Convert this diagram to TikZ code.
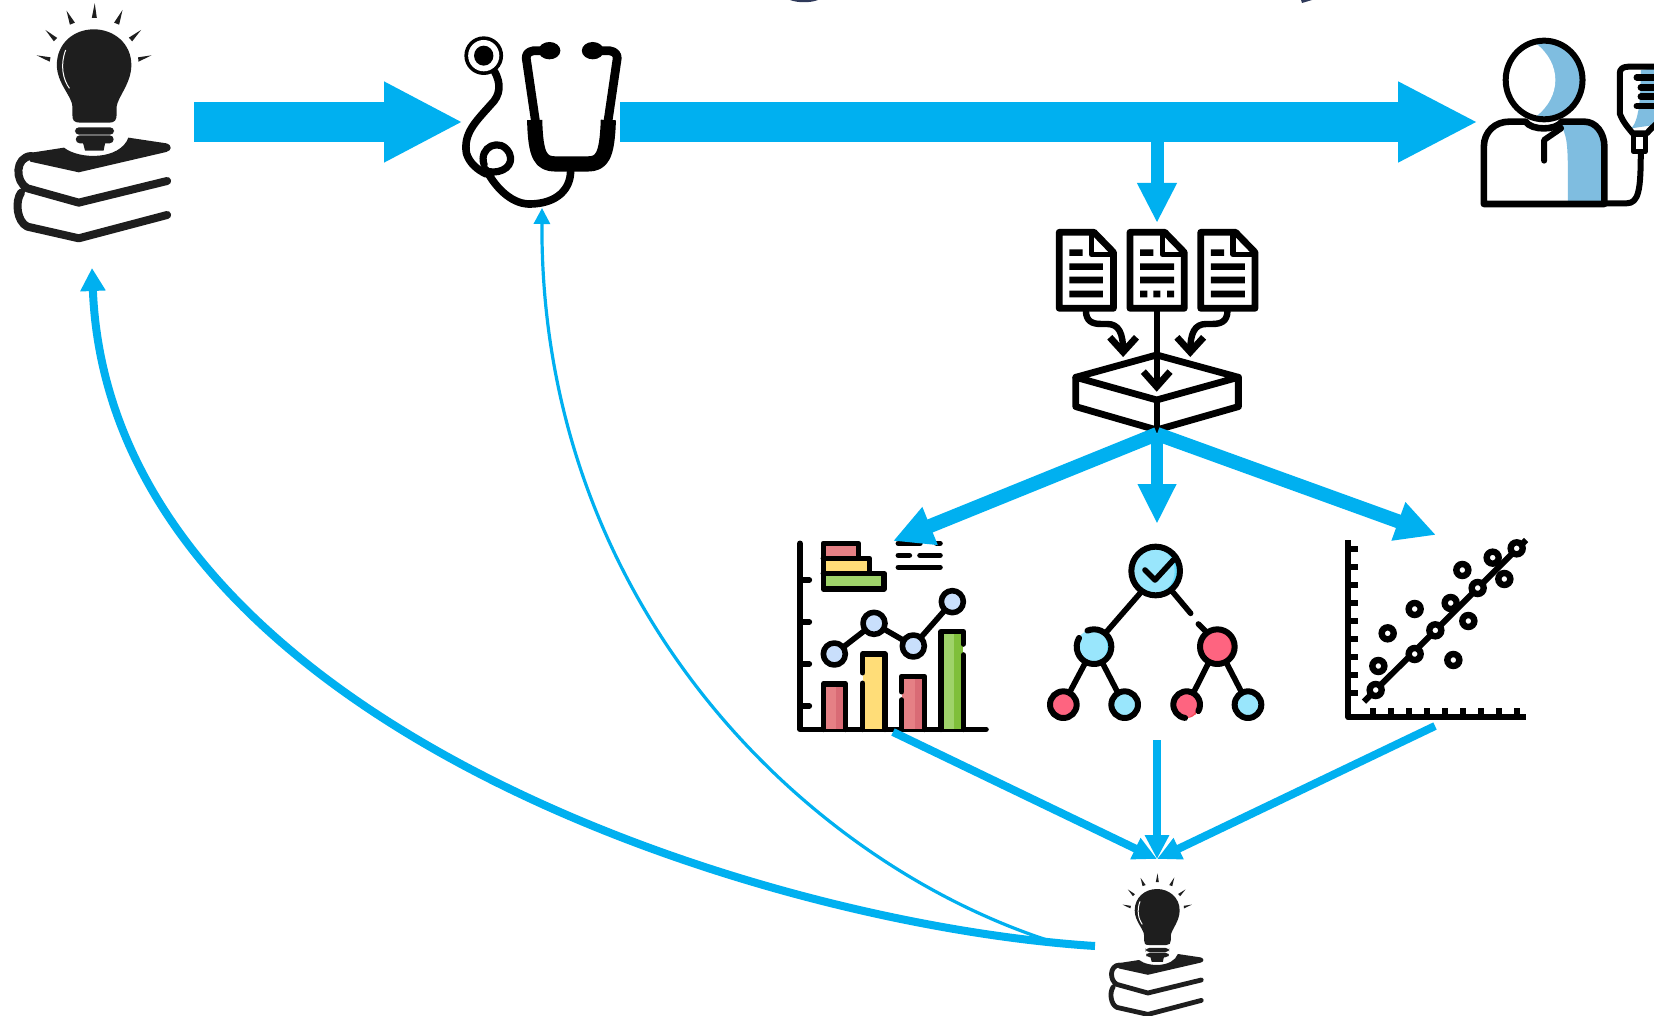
\documentclass[tikz,border=0pt]{standalone}
\usetikzlibrary{arrows.meta}
\definecolor{arrowblue}{HTML}{00B0F0}
\definecolor{inkdark}{HTML}{1E1E1E}
\definecolor{patblue}{HTML}{7FBDE0}
\definecolor{barred}{HTML}{E58085}
\definecolor{barreddk}{HTML}{D96B75}
\definecolor{baryel}{HTML}{FFDD78}
\definecolor{bargrn}{HTML}{9FD36A}
\definecolor{bargrndk}{HTML}{7FBF3A}
\definecolor{dotblue}{HTML}{C9DFFC}
\definecolor{treeblue}{HTML}{99E6FC}
\definecolor{treebluedk}{HTML}{62DBFB}
\definecolor{treered}{HTML}{FE6480}
\definecolor{treereddk}{HTML}{F64A5A}
\definecolor{titleink}{HTML}{2F3A5A}
\tikzset{
  conn/.style={draw=arrowblue,line width=#1},
  icon/.style={draw=black,line width=#1,line cap=round,line join=round},
  icon/.default=2.8pt,
}
\newcommand{\bulbbooks}[1]{%
  \fill[inkdark] (225,10)--(218,54)--(230,54)--cycle
    (158,32)--(166,74)--(178,68)--cycle
    (291,30)--(271,68)--(283,74)--cycle
    (108,90)--(128,124)--(136,114)--cycle
    (335,90)--(306,113)--(314,124)--cycle
    (87,166)--(120,172)--(118,185)--cycle
    (360,166)--(328,172)--(329,185)--cycle;
  \fill[inkdark] (172,345) .. controls (172,360) and (175,368) .. (190,368) -- (260,368)
    .. controls (272,368) and (277,360) .. (277,345) -- (277,320)
    .. controls (280,290) and (312,250) .. (312,195)
    .. controls (312,130) and (270,88) .. (223,88)
    .. controls (175,88) and (135,130) .. (135,195)
    .. controls (135,250) and (172,290) .. (172,320) -- cycle;
  \draw[white,line width=.5pt] (156,150) .. controls (142,195) and (150,240) .. (165,265);
  \fill[inkdark,rounded corners=2pt] (178,382) rectangle (271,404);
  \fill[inkdark,rounded corners=2pt] (180,406) rectangle (270,430);
  \fill[inkdark] (197,428) -- (250,428) -- (246,452) -- (202,452) -- cycle;
  \fill[inkdark] (152,443) .. controls (190,480) and (285,480) .. (305,413) -- (395,430)
    .. controls (410,436) and (408,452) .. (395,456) -- (187,517) -- (72,485) -- (65,460) -- cycle;
  \draw[draw=inkdark,line width=#1,line cap=round,line join=round]
    (75,468) .. controls (35,470) and (35,545) .. (65,565) -- (187,608) -- (397,543)
    (50,578) .. controls (35,605) and (40,665) .. (65,680) -- (187,715) -- (397,645);
}
\newcommand{\chartbar}[6]{%
  \fill[#5] (#1,628) rectangle (#2,#3);
  \fill[#6] ({#2-28},628) rectangle (#2,#3);
}
\newcommand{\chartdot}[2]{\draw[icon=2.8pt,fill=dotblue] (#1,#2) circle[radius=33];}
\newcommand{\treeshade}[6]{%
  \begin{scope}
    \clip (#1,#2) circle[radius=#3];
    \fill[#5] (#1,#2) circle[radius=#3];
    \fill[#4] ({#1-#6},#2) circle[radius=#3];
  \end{scope}%
}
\newcommand{\ringdot}[2]{\draw[line width=3.2pt,draw=black,fill=white] (#1,#2) circle[radius=18];}
\begin{document}
\begin{tikzpicture}[x=.5pt,y=-.5pt]
\useasboundingbox (0,0) rectangle (1654,1016);
\fill[white] (0,0) rectangle (1654,1016);

% clipped fragments at the top edge
\fill[titleink] (790,0) .. controls (798,3) and (810,3) .. (818,0) -- cycle;
\fill[titleink] (1301,0) -- (1312,0) -- (1302,3) -- cycle;

% named ends of the connectors
\coordinate (bookR) at (194,122);
\coordinate (stethL) at (463,122);
\coordinate (stethR) at (620,122);
\coordinate (patientL) at (1478,122);
\coordinate (trunk) at (1157,142);
\coordinate (docsTop) at (1157,223);
\coordinate (stackB) at (1157,434);
\coordinate (chartT) at (893,541);
\coordinate (treeT) at (1157,524);
\coordinate (scatT) at (1436,535);
\coordinate (chartB) at (893,732);
\coordinate (treeB) at (1157,740);
\coordinate (scatB) at (1435,726);
\coordinate (smallT) at (1157,859);
\coordinate (smallL) at (1095,946);
\coordinate (thinS) at (1050,941);
\coordinate (bookB) at (92,268);
\coordinate (stethB) at (542,208);

% big bulb and books
\begin{scope}[xscale=.421,yscale=.3333]
  \bulbbooks{4pt}
\end{scope}

% small bulb and books
\begin{scope}[shift={(1100.4,871.4)},xscale=.254,yscale=.2]
  \bulbbooks{2.4pt}
\end{scope}

% stethoscope
\begin{scope}[xscale=.421,yscale=.3333]
  \fill (1149,167) ellipse[x radius=46,y radius=58];
  \fill[white] (1149,167) ellipse[x radius=37,y radius=47];
  \fill (1149,167) ellipse[x radius=23,y radius=30];
  \draw[icon=3.8pt] (1175,215) .. controls (1190,250) and (1190,285) .. (1165,315)
     .. controls (1130,365) and (1100,400) .. (1108,460) .. controls (1115,490) and (1135,510) .. (1155,522);
  \draw[icon=3.6pt] (1150,495) .. controls (1135,440) and (1190,410) .. (1210,460)
     .. controls (1222,495) and (1195,522) .. (1160,515);
  \draw[icon=3.8pt] (1155,510) .. controls (1180,570) and (1220,615) .. (1262,612)
     .. controls (1320,610) and (1360,570) .. (1355,500);
  \fill (1305,152) circle[radius=26];
  \fill (1408,152) circle[radius=26];
  \draw[icon=4.4pt] (1295,152) -- (1268,152) .. controls (1252,155) and (1250,165) .. (1250,175) -- (1272,365);
  \draw[icon=4.4pt] (1420,152) -- (1447,152) .. controls (1463,155) and (1466,165) .. (1466,175) -- (1444,365);
  \draw[draw=black,line width=7.6pt,line join=round] (1270,360) .. controls (1272,470) and (1285,492) .. (1320,492)
     -- (1395,492) .. controls (1430,492) and (1442,470) .. (1445,360);
\end{scope}

% patient with drip
\begin{scope}[shift={(1020,0)},xscale=.4044,yscale=.3333]
  \clip (0,0) rectangle (1568,1016);
  \fill[patblue] (1296,240) ellipse[x radius=95,y radius=118];
  \begin{scope}
    \clip (1296,240) ellipse[x radius=95,y radius=118];
    \fill[white] (1275,130) .. controls (1340,190) and (1340,290) .. (1275,350) -- (1150,350) -- (1150,130) -- cycle;
  \end{scope}
  \draw[icon=3pt] (1296,240) ellipse[x radius=95,y radius=118];
  \fill[patblue] (1340,380) .. controls (1355,420) and (1355,440) .. (1355,605) -- (1445,605) -- (1445,440)
     .. controls (1445,400) and (1425,365) .. (1395,365) -- (1340,365) -- cycle;
  \draw[icon=3.3pt] (1147,612) -- (1147,440) .. controls (1147,395) and (1175,365) .. (1210,365) -- (1250,365)
     .. controls (1265,392) and (1325,392) .. (1340,365) -- (1395,365)
     .. controls (1425,365) and (1445,400) .. (1445,440) -- (1445,612) -- cycle;
  \draw[icon=3pt] (1338,385) -- (1296,420) -- (1296,482);
  \draw[icon=3pt] (1445,610) -- (1500,610) .. controls (1530,610) and (1535,570) .. (1535,455);
  \fill[patblue] (1535,210) -- (1568,205) -- (1568,375) -- (1512,385) .. controls (1530,360) and (1535,300) .. (1535,210) -- cycle;
  \draw[icon=3pt] (1568,200) -- (1505,200) .. controls (1490,200) and (1483,208) .. (1483,220) -- (1483,340)
     .. controls (1490,365) and (1505,385) .. (1515,400) -- (1550,400) .. controls (1556,390) and (1562,385) .. (1575,370);
  \draw[icon=2.6pt,fill=white] (1517,403) rectangle (1546,455);
  \draw[icon=3.2pt] (1525,232) -- (1575,232) (1535,262) -- (1575,262) (1535,290) -- (1575,290) (1525,318) -- (1575,318);
\end{scope}

% documents and stack
\begin{scope}[shift={(1020,0)},xscale=.4044,yscale=.3333]
  \draw[icon=3.4pt] (97,697) -- (183,697) -- (231,757) -- (231,925) -- (97,925) -- cycle;
  \draw[icon=2.8pt] (177,700) -- (177,763) -- (230,763);
  \draw[icon=3.4pt] (272,697) -- (358,697) -- (406,757) -- (406,925) -- (272,925) -- cycle;
  \draw[icon=2.8pt] (352,700) -- (352,763) -- (405,763);
  \draw[icon=3.4pt] (447,697) -- (533,697) -- (581,757) -- (581,925) -- (447,925) -- cycle;
  \draw[icon=2.8pt] (527,700) -- (527,763) -- (580,763);
  \fill (122,748) rectangle (155,768) (122,790) rectangle (205,810) (122,830) rectangle (205,850) (122,872) rectangle (205,892);
  \fill (297,748) rectangle (330,768) (297,790) rectangle (381,810) (297,830) rectangle (381,850)
        (297,872) rectangle (315,892) (330,872) rectangle (347,892) (364,872) rectangle (381,892);
  \fill (472,748) rectangle (505,768) (472,790) rectangle (556,810) (472,830) rectangle (556,850) (472,872) rectangle (556,892);
  \draw[icon=3.2pt] (163,932) .. controls (163,965) and (180,972) .. (200,972) -- (215,972)
      .. controls (245,972) and (255,1000) .. (255,1055);
  \draw[icon=3.2pt] (513,932) .. controls (513,965) and (496,972) .. (476,972) -- (461,972)
      .. controls (431,972) and (421,1000) .. (421,1055);
  \draw[icon=3.4pt,line cap=butt,line join=miter] (222,1012) -- (255,1056) -- (288,1012);
  \draw[icon=3.4pt,line cap=butt,line join=miter] (388,1012) -- (421,1056) -- (454,1012);
  \draw[icon=3.2pt] (338,930) -- (338,1155);
  \draw[icon=3.4pt,line cap=butt,line join=miter] (305,1115) -- (338,1160) -- (371,1115);
  \draw[icon=3.4pt] (338,1065) -- (540,1132) -- (338,1200) -- (138,1132) -- cycle;
  \draw[icon=3.4pt] (138,1132) -- (138,1220) -- (338,1290) -- (540,1220) -- (540,1132);
  \draw[icon=3.2pt] (338,1200) -- (338,1290);
\end{scope}

% bar and line chart
\begin{scope}[shift={(780,520)},scale=1/3]
  \draw[icon] (60,70) -- (60,628) -- (618,628);
  \draw[icon] (60,180) -- (88,180) (60,306) -- (88,306) (60,432) -- (88,432) (60,558) -- (88,558);
  \fill[barred] (130,70) rectangle (235,115);
  \fill[baryel] (130,115) rectangle (268,160);
  \fill[bargrn] (130,160) rectangle (312,207);
  \draw[icon] (130,70) -- (235,70) -- (235,115) -- (268,115) -- (268,160) -- (312,160) -- (312,207) -- (130,207) -- cycle;
  \draw[icon] (130,115) -- (235,115) (130,160) -- (268,160);
  \draw[icon] (355,70) -- (420,70) (470,70) -- (480,70) (355,106) -- (388,106) (420,106) -- (480,106) (355,142) -- (480,142);
  \chartbar{130}{197}{492}{barred}{barred}{barreddk}
  \chartbar{248}{315}{402}{baryel}{baryel}{baryel}
  \chartbar{365}{433}{469}{barred}{barred}{barreddk}
  \chartbar{483}{550}{335}{bargrn}{bargrn}{bargrndk}
  \draw[icon] (130,628) -- (130,492) -- (197,492) -- (197,628);
  \draw[icon] (248,628) -- (248,490) (248,458) -- (248,402) -- (315,402) -- (315,628);
  \draw[icon] (365,628) -- (365,540) (365,515) -- (365,469) -- (433,469) -- (433,628);
  \draw[icon] (483,628) -- (483,335) -- (550,335) -- (550,372) (550,405) -- (550,628);
  \draw[icon] (163,402) -- (282,310) -- (400,378) -- (517,245);
  \chartdot{163}{402}
  \chartdot{282}{310}
  \chartdot{400}{378}
  \chartdot{517}{245}
\end{scope}

% decision tree
\begin{scope}[shift={(780,520)},scale=1/3]
  \draw[icon] (1080,220) -- (980,335) (1180,218) -- (1232,280) (1255,312) -- (1278,335);
  \draw[icon] (915,430) -- (870,515) (968,430) -- (1012,515) (1285,430) -- (1242,515) (1340,430) -- (1384,515);
  \treeshade{1127}{153}{73}{treeblue}{treebluedk}{16}
  \draw[icon=3pt] (1127,153) circle[radius=73];
  \draw[icon] (1095,150) -- (1125,180) -- (1180,120);
  \treeshade{942}{380}{52}{treeblue}{treebluedk}{12}
  \draw[icon=3pt] (942,380) ++(248:52) arc[start angle=248,end angle=570,radius=52];
  \treeshade{1312}{380}{52}{treered}{treereddk}{12}
  \draw[icon=3pt] (1312,380) circle[radius=52];
  \treeshade{850}{554}{40}{treered}{treereddk}{8}
  \draw[icon=3pt] (850,554) circle[radius=40];
  \treeshade{1034}{554}{40}{treeblue}{treebluedk}{8}
  \draw[icon=3pt] (1034,554) circle[radius=40];
  \treeshade{1220}{554}{40}{treered}{treereddk}{8}
  \draw[icon=3pt] (1220,554) ++(97:40) arc[start angle=97,end angle=389,radius=40];
  \treeshade{1404}{554}{40}{treeblue}{treebluedk}{8}
  \draw[icon=3pt] (1404,554) circle[radius=40];
\end{scope}

% scatter plot
\begin{scope}[shift={(1280,520)},scale=1/3]
  \draw[line width=2.9pt,line join=round] (205,60) -- (205,592) -- (737,592);
  \foreach \yy in {87,141,195,249,303,357,411,465,519} {\draw[line width=3pt] (205,\yy) -- (233,\yy);}
  \foreach \xx in {278,332,386,440,494,548,602,656,710} {\draw[line width=3pt] (\xx,592) -- (\xx,565);}
  \draw[line width=3pt] (252,545) -- (738,60);
  \foreach \px/\py in {287/510,404/402,466/331,593/204,710/85,512/249,638/113,295/438,323/340,404/267,520/420,565/303,547/150,673/177}
    {\ringdot{\px}{\py}}
\end{scope}

% connectors
\draw[conn=20pt,-{Triangle[length=39.5pt,width=37.5pt]}] (bookR) -- (stethL);
\draw[conn=20pt,-{Triangle[length=40pt,width=37.5pt]}] (stethR) -- (patientL);
\draw[conn=6.5pt,-{Triangle[length=20pt,width=18.5pt]}] (trunk) -- (docsTop);
\draw[conn=7pt,-{Triangle[length=20pt,width=19pt]}] (stackB) -- (chartT);
\draw[conn=6.3pt,-{Triangle[length=20pt,width=18pt]}] (stackB) -- (treeT);
\draw[conn=7pt,-{Triangle[length=20pt,width=19pt]}] (stackB) -- (scatT);
\draw[conn=4pt,-{Triangle[length=12pt,width=11pt]}] (chartB) -- (smallT);
\draw[conn=3.7pt,-{Triangle[length=12pt,width=11.5pt]}] (treeB) -- (smallT);
\draw[conn=4pt,-{Triangle[length=12pt,width=11pt]}] (scatB) -- (smallT);
\draw[conn=4pt,-{Triangle[length=11.5pt,width=12pt]}] (smallL) .. controls (760,925) and (110,720) .. (bookB);
\draw[conn=1.6pt,-{Triangle[length=8pt,width=8pt]}] (thinS) .. controls (800,860) and (540,600) .. (stethB);
\end{tikzpicture}
\end{document}
